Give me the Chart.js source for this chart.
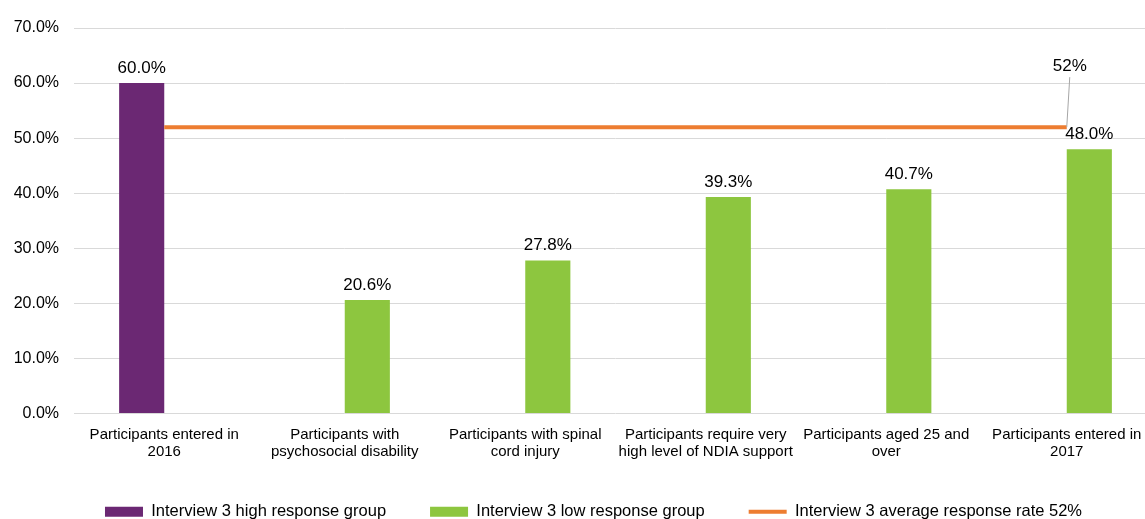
<!DOCTYPE html>
<html>
<head>
<meta charset="utf-8">
<script src="https://cdn.jsdelivr.net/npm/chart.js@4"></script>
<style>
  html, body { margin: 0; padding: 0; background: #fff; overflow: hidden; }
  #wrap { width: 1160px; height: 530px; position: relative; }
</style>
</head>
<body>
<div id="wrap"><canvas id="responseChart"></canvas></div>
<script>
// Interview 3 response rates by participant group
const categories = [
    ['Participants entered in', '2016'],
    ['Participants with', 'psychosocial disability'],
    ['Participants with spinal', 'cord injury'],
    ['Participants require very', 'high level of NDIA support'],
    ['Participants aged 25 and', 'over'],
    ['Participants entered in', '2017']
];
const highGroup = [60.0, null, null, null, null, null];
const lowGroup = [null, 20.6, 27.8, 39.3, 40.7, 48.0];
const averageRate = [52, 52, 52, 52, 52, 52];
const yTicks = [0, 10, 20, 30, 40, 50, 60, 70];

const font = "'Liberation Sans', Arial, sans-serif";

// value labels above bars, plus the callout on the average line
const valueLabels = {
    id: 'valueLabels',
    afterDatasetsDraw(chart) {
        const ctx = chart.ctx;
        ctx.save();
        ctx.fillStyle = '#000';
        ctx.font = '17px ' + font;
        ctx.textAlign = 'center';
        ctx.textBaseline = 'alphabetic';
        [0, 1].forEach(di => {
            const meta = chart.getDatasetMeta(di);
            meta.data.forEach((bar, i) => {
                const v = chart.data.datasets[di].data[i];
                if (v === null) return;
                ctx.fillText(v.toFixed(1) + '%', bar.x, bar.y - 10);
            });
        });
        const lineMeta = chart.getDatasetMeta(2);
        const last = lineMeta.data[lineMeta.data.length - 1];
        ctx.strokeStyle = '#a6a6a6';
        ctx.lineWidth = 1;
        ctx.beginPath();
        ctx.moveTo(last.x, last.y);
        ctx.lineTo(last.x + 3, last.y - 50);
        ctx.stroke();
        ctx.fillText(averageRate[averageRate.length - 1] + '%', last.x + 3, last.y - 56);
        ctx.restore();
    }
};

// nudge the legend row a little to the right
const legendShift = {
    id: 'legendShift',
    afterLayout(chart) {
        chart.legend.left += 15;
        chart.legend.right += 15;
    }
};

new Chart(document.getElementById('responseChart'), {
    type: 'bar',
    data: {
        labels: categories,
        datasets: [
            {
                label: 'Interview 3 high response group',
                data: highGroup,
                backgroundColor: '#6B2873',
                pointStyle: 'rect',
                categoryPercentage: 0.5,
                barPercentage: 1.0,
                order: 2
            },
            {
                label: 'Interview 3 low response group',
                data: lowGroup,
                backgroundColor: '#8DC63F',
                pointStyle: 'rect',
                categoryPercentage: 0.5,
                barPercentage: 1.0,
                order: 2
            },
            {
                type: 'line',
                label: 'Interview 3 average response rate 52%',
                data: averageRate,
                borderColor: '#ED7D31',
                backgroundColor: '#ED7D31',
                borderWidth: 4,
                pointRadius: 0,
                pointStyle: 'line',
                fill: false,
                order: 1
            }
        ]
    },
    options: {
        responsive: true,
        maintainAspectRatio: false,
        animation: false,
        layout: { padding: { top: 28, right: 3, left: 0, bottom: 0 } },
        scales: {
            x: {
                grid: { display: false },
                border: { display: false },
                ticks: {
                    color: '#000',
                    font: { family: font, size: 15, lineHeight: 1.13 },
                    padding: 5,
                    maxRotation: 0,
                    autoSkip: false
                },
                afterFit(scale) { scale.height = 46; }
            },
            y: {
                min: 0,
                max: 70,
                afterBuildTicks(scale) { scale.ticks = yTicks.map(v => ({ value: v })); },
                grid: { color: '#d9d9d9', drawTicks: false },
                border: { display: false },
                ticks: {
                    color: '#000',
                    font: { family: font, size: 16 },
                    padding: 15,
                    callback: v => v.toFixed(1) + '%'
                },
                afterFit(scale) { scale.width = 74; }
            }
        },
        plugins: {
            legend: {
                position: 'bottom',
                labels: {
                    usePointStyle: true,
                    pointStyleWidth: 38,
                    boxHeight: 10,
                    padding: 44,
                    color: '#000',
                    font: { family: font, size: 16.5 },
                    sort: (a, b) => a.datasetIndex - b.datasetIndex
                }
            },
            tooltip: { enabled: false }
        }
    },
    plugins: [valueLabels, legendShift]
});
</script>
</body>
</html>
